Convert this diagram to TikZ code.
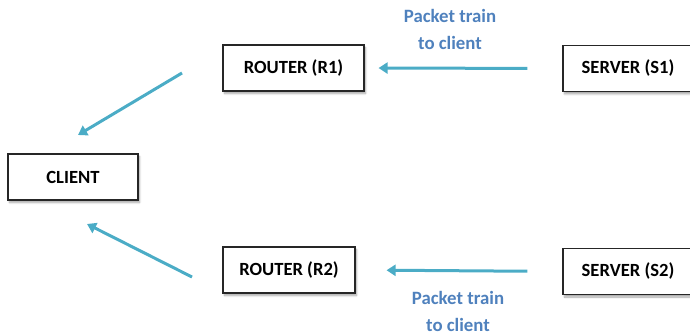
\documentclass[tikz,border=0pt]{standalone}
\usepackage{fontspec}
\setmainfont{Carlito}
\usetikzlibrary{arrows.meta,shadows.blur}
\definecolor{arrowc}{HTML}{4BACC6}
\definecolor{labc}{HTML}{4F81BD}
\tikzset{
  box/.style={draw=black!85, line width=1.1pt, fill=white, minimum height=46pt, inner sep=0pt,
    font=\fontsize{18.6}{20}\selectfont\bfseries,
    blur shadow={shadow xshift=1.5pt, shadow yshift=-2.5pt, shadow opacity=35, shadow blur steps=6}},
  arr/.style={draw=arrowc, line width=3pt, -{Triangle[length=9pt,width=11pt]}},
  lab/.style={text=labc, font=\fontsize{18.8}{27}\selectfont\bfseries, align=center}
}
\begin{document}
\begin{tikzpicture}[x=1pt,y=-1pt]
\useasboundingbox (0,0) rectangle (690,336);
\clip (0,0) rectangle (690,336);
\node[box, minimum width=130pt] (client) at (73,177) {CLIENT};
\node[box, minimum width=141pt] (r1) at (293.5,68) {ROUTER (R1)};
\node[box, minimum width=132pt] (r2) at (289,270) {ROUTER (R2)};
\node[box, minimum width=130pt] (s1) at (628,68.5) {SERVER (S1)};
\node[box, minimum width=130pt] (s2) at (628,271.5) {SERVER (S2)};
\draw[arr, shorten <=35pt, shorten >=14pt] (s1.west) -- (r1.east);
\draw[arr, shorten <=35pt, shorten >=31pt] (s2.west) -- (r2.east);
\coordinate (d1s) at (182,73);
\coordinate (d1e) at (78,135);
\coordinate (d2s) at (192,277);
\coordinate (d2e) at (87,224);
\draw[arr] (d1s) -- (d1e);
\draw[arr] (d2s) -- (d2e);
\node[lab] (l1) at (450,29.5) {Packet train\\to client};
\node[lab] (l2) at (458,311) {Packet train\\to client};
\end{tikzpicture}
\end{document}
